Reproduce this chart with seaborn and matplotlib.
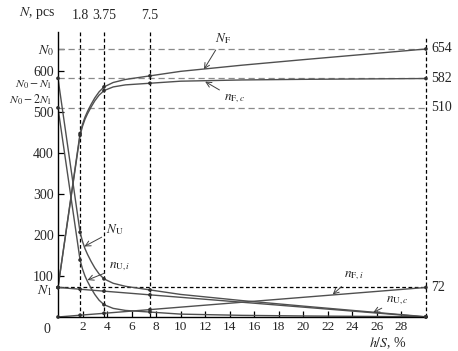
import matplotlib
matplotlib.use('agg')
import matplotlib.pyplot as plt
import seaborn as sns
import numpy as np
import pandas as pd

# h/S, % grid
hs = [0, 1.8, 2.0, 2.2, 2.4, 2.7, 3.0, 3.35, 3.75, 4.5, 5.5, 7.5, 10, 15, 20, 25, 30]
N_F = [72, 447.3, 469.8, 487.3, 500.8, 518.5, 534.2, 549.0, 561.0, 571.8, 579.2, 588.0, 599.0, 614.0, 627.5, 640.5, 653.5]
n_Fc = [72, 443.0, 465.0, 482.0, 495.0, 512.0, 527.0, 541.0, 552.0, 561.0, 566.0, 570.0, 575.0, 578.0, 579.5, 580.5, 581.5]
N_U = [582, 206.7, 184.2, 166.7, 153.2, 135.5, 119.8, 105.0, 93.0, 82.2, 74.8, 66.0, 55.0, 40.0, 26.5, 13.5, 0.5]
n_Ui = [510, 139, 117, 100, 87, 70, 55, 41, 30, 21, 16, 12, 7, 4, 2.5, 1.5, 0.5]
n_Fi = [0, 4.3, 4.8, 5.3, 5.8, 6.5, 7.2, 8.0, 9.0, 10.8, 13.2, 18.0, 24.0, 36.0, 48.0, 60.0, 72]
n_Uc = [72, 67.7, 67.2, 66.7, 66.2, 65.5, 64.8, 64.0, 63.0, 61.2, 58.8, 54.0, 48.0, 36.0, 24.0, 12.0, 0]

marked_x = [0, 1.8, 3.75, 7.5, 30]
N0, N1 = 654, 72
levels = [654, 582, 510]
level_labels = [r'$N_0$', r'$N_0-N_1$', r'$N_0-2N_1$']
yticks = [100, 200, 300, 400, 500, 600]
xticks = [2, 4, 6, 8, 10, 12, 14, 16, 18, 20, 22, 24, 26, 28]

series = {'NF': N_F, 'nFc': n_Fc, 'NU': N_U, 'nUi': n_Ui, 'nFi': n_Fi, 'nUc': n_Uc}
rows = []
for name, vals in series.items():
    for x, v in zip(hs, vals):
        rows.append((name, x, v))
df = pd.DataFrame(rows, columns=['curve', 'hs', 'N'])

sns.set_style('ticks')
plt.rcParams['font.family'] = ['Liberation Serif', 'DejaVu Serif']
plt.rcParams['mathtext.fontset'] = 'stix'
plt.rcParams['font.size'] = 9.5

fig = plt.figure(figsize=(4.58, 3.51), dpi=100)
ax = fig.add_axes([0.1266, 0.0969, 0.8034, 0.812])

line_col = '#505050'
sns.lineplot(data=df, x='hs', y='N', units='curve', estimator=None, sort=False,
             color=line_col, lw=1.0, ax=ax, legend=False)
dots = df[df['hs'].isin(marked_x)]
sns.scatterplot(data=dots, x='hs', y='N', color='#303030', s=7, edgecolor='none', ax=ax,
                legend=False, zorder=5, clip_on=False)

# reference lines
for lv in levels:
    ax.plot([0, 30], [lv, lv], color='#8a8a8a', lw=0.9, dashes=(5, 3), zorder=1)
ax.plot([0, 30], [N1, N1], color='black', lw=0.9, dashes=(3, 2), zorder=1)
for xv in marked_x[1:4]:
    ax.plot([xv, xv], [0, 695], color='black', lw=0.9, dashes=(3, 2), zorder=1)
    ax.annotate(str(xv), (xv, 1.0), xycoords=('data', 'axes fraction'), xytext=(0, 7),
                textcoords='offset points', ha='center', va='bottom', fontsize=10)
ax.plot([30, 30], [0, 680], color='black', lw=0.9, dashes=(3, 2), zorder=1, clip_on=False)

ax.set_xlim(0, 30)
ax.set_ylim(0, 695)
ax.set_xticks(xticks)
ax.set_xticklabels([str(t) for t in xticks])
ax.set_yticks(yticks + [N0, N1])
ax.set_yticklabels([str(t) for t in yticks] + [r'$N_0$', ''])
ax.tick_params(direction='in', length=4, width=0.9, pad=3, labelsize=9.5, color='black')
ax.tick_params(axis='y', labelsize=10)
ax.set_xlabel('')
ax.set_ylabel('')
sns.despine(ax=ax)
for s in ['left', 'bottom']:
    ax.spines[s].set_linewidth(1.0)
    ax.spines[s].set_color('black')

# left labels for N0-N1, N0-2N1 and N1, nudged off the numeric ticks
ax.annotate(level_labels[1], (0, levels[1]), xytext=(-4, -4.5), textcoords='offset points',
            ha='right', va='center', annotation_clip=False, fontsize=8.5)
ax.annotate(level_labels[2], (0, levels[2]), xytext=(-4, 5.5), textcoords='offset points',
            ha='right', va='center', annotation_clip=False, fontsize=8.5)
ax.annotate(r'$N_1$', (0, N1), xytext=(-4, -2.5), textcoords='offset points',
            ha='right', va='center', annotation_clip=False, fontsize=10)

# right labels
for lv in levels + [N1]:
    ax.annotate(str(lv), (30, lv), xytext=(4, 0), textcoords='offset points',
                ha='left', va='center', annotation_clip=False, fontsize=10)

ax.annotate('0', (0, 0), xytext=(-8, -4), textcoords='offset points', ha='center', va='top',
            annotation_clip=False, fontsize=10)
fig.text(37 / 458, 1 - 13 / 351, r'$N$, pcs', ha='center', va='center', fontsize=10)
fig.text(388 / 458, 1 - 343 / 351, r'$h/S$, %', ha='center', va='center', fontsize=10)

arrow = dict(arrowstyle='->', color='#404040', lw=0.7, shrinkA=1, shrinkB=0)
ax.annotate(r'$N_{\mathrm{F}}$', xy=(11.9, 604), xytext=(13.45, 680), ha='center', va='center', arrowprops=arrow)
ax.annotate(r'$n_{\mathrm{F},c}$', xy=(12.0, 574), xytext=(14.4, 532), ha='center', va='center', arrowprops=arrow)
ax.annotate(r'$N_{\mathrm{U}}$', xy=(2.15, 172), xytext=(4.65, 212), ha='center', va='center', arrowprops=arrow)
ax.annotate(r'$n_{\mathrm{U},i}$', xy=(2.4, 90), xytext=(5.05, 122), ha='center', va='center', arrowprops=arrow)
ax.annotate(r'$n_{\mathrm{F},i}$', xy=(22.4, 55), xytext=(24.1, 100), ha='center', va='center', arrowprops=arrow)
ax.annotate(r'$n_{\mathrm{U},c}$', xy=(25.7, 11), xytext=(27.7, 41), ha='center', va='center', arrowprops=arrow)

fig.savefig('out.png', dpi=100)
